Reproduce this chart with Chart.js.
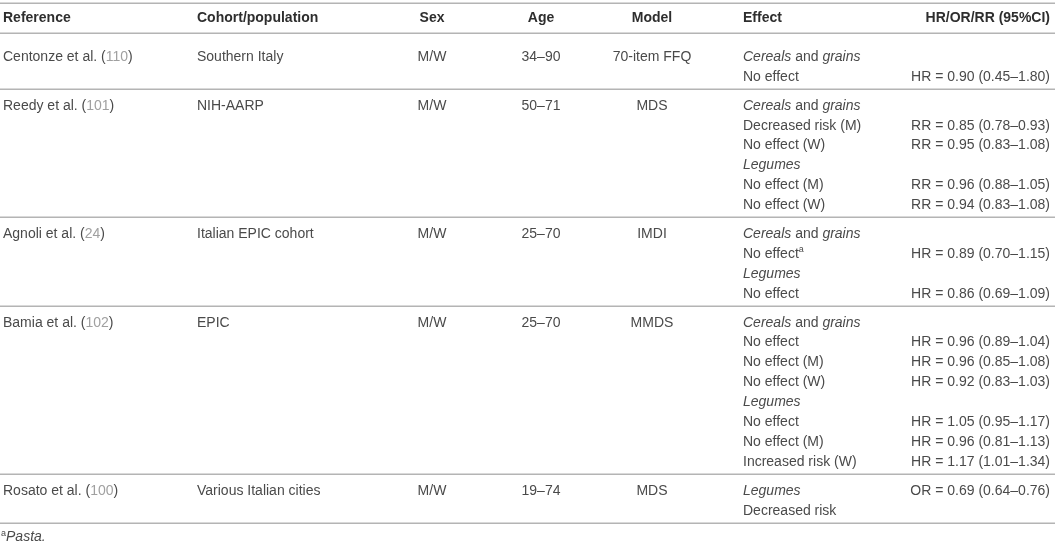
<!DOCTYPE html>
<html><head><meta charset="utf-8">
<script src="https://cdn.jsdelivr.net/npm/chart.js@4/dist/chart.umd.min.js"></script>
<style>html,body{margin:0;padding:0;background:#fff}#wrap{width:1055px;height:545px;position:relative}</style>
</head><body><div id="wrap"><canvas id="c"></canvas></div>
<script>
// ---------- data ----------
const headers = ["Reference","Cohort/population","Sex","Age","Model","Effect","HR/OR/RR (95%CI)"];
const refAuthors = ["Centonze et al.","Reedy et al.","Agnoli et al.","Bamia et al.","Rosato et al."];
const refNumbers = ["110","101","24","102","100"];
const cohorts = ["Southern Italy","NIH-AARP","Italian EPIC cohort","EPIC","Various Italian cities"];
const sexes = ["M/W","M/W","M/W","M/W","M/W"];
const ages = ["34–90","50–71","25–70","25–70","19–74"];
const models = ["70-item FFQ","MDS","IMDI","MMDS","MDS"];
const effects = [
  ["*Cereals* and *grains*","No effect"],
  ["*Cereals* and *grains*","Decreased risk (M)","No effect (W)","*Legumes*","No effect (M)","No effect (W)"],
  ["*Cereals* and *grains*","No effect^a","*Legumes*","No effect"],
  ["*Cereals* and *grains*","No effect","No effect (M)","No effect (W)","*Legumes*","No effect","No effect (M)","Increased risk (W)"],
  ["*Legumes*","Decreased risk"]
];
const measureTypes = [
  [null,"HR"],
  [null,"RR","RR",null,"RR","RR"],
  [null,"HR",null,"HR"],
  [null,"HR","HR","HR",null,"HR","HR","HR"],
  ["OR",null]
];
const estimates = [
  [null,0.90],
  [null,0.85,0.95,null,0.96,0.94],
  [null,0.89,null,0.86],
  [null,0.96,0.96,0.92,null,1.05,0.96,1.17],
  [0.69,null]
];
const lowerCI = [
  [null,0.45],
  [null,0.78,0.83,null,0.88,0.83],
  [null,0.70,null,0.69],
  [null,0.89,0.85,0.83,null,0.95,0.81,1.01],
  [0.64,null]
];
const upperCI = [
  [null,1.80],
  [null,0.93,1.08,null,1.05,1.08],
  [null,1.15,null,1.09],
  [null,1.04,1.08,1.03,null,1.17,1.13,1.34],
  [0.76,null]
];
const footnote = "^a*Pasta.*";

// ---------- layout (rows measured in row units) ----------
const L = {
  yMin: -2.839, yMax: 24.548,
  topLine: -2.71, headerRow: -1.93, headerLine: -1.18,
  gap: 0.45, lineAfter: 0.63, footRow: 24.15,
  colX: [3, 197, 432, 541, 652, 743, 1050],
  colAlign: ["left","left","center","center","center","left","right"],
  font: '"Liberation Sans",Arial,sans-serif',
  size: 14, text: "#4a4a4a", head: "#2e2e2e", grey: "#a0a0a0", rule: "#b4b4b4"
};

// row positions
const studyRowY = [], groupLines = [];
let pos = 0;
effects.forEach((rows, i) => {
  studyRowY.push(rows.map((_, k) => pos + k));
  groupLines.push(pos + rows.length - 1 + L.lineAfter);
  pos += rows.length + L.gap;
});
const ruleRows = [L.topLine, L.headerLine, ...groupLines];

function fmt(v){ return v.toFixed(2); }

// build datasets: one per column
const colCells = headers.map(() => []);
headers.forEach((h, j) => colCells[j].push({x: L.colX[j], y: L.headerRow, text: h, bold: true}));
refAuthors.forEach((a, i) => {
  const y = studyRowY[i][0];
  colCells[0].push({x: L.colX[0], y, text: a + " (", ref: refNumbers[i]});
  colCells[1].push({x: L.colX[1], y, text: cohorts[i]});
  colCells[2].push({x: L.colX[2], y, text: sexes[i]});
  colCells[3].push({x: L.colX[3], y, text: ages[i]});
  colCells[4].push({x: L.colX[4], y, text: models[i]});
  effects[i].forEach((e, k) => {
    const yy = studyRowY[i][k];
    colCells[5].push({x: L.colX[5], y: yy, text: e});
    if (estimates[i][k] != null) {
      colCells[6].push({x: L.colX[6], y: yy,
        text: measureTypes[i][k] + " = " + fmt(estimates[i][k]) + " (" + fmt(lowerCI[i][k]) + "–" + fmt(upperCI[i][k]) + ")"});
    }
  });
});
const footCells = [{x: 1, y: L.footRow, text: footnote}];

const datasets = colCells.map((cells, j) => ({
  label: headers[j], data: cells, align: L.colAlign[j],
  pointRadius: 0, showLine: false, clip: false
}));
datasets.push({label: "footnote", data: footCells, align: "left", pointRadius: 0, showLine: false, clip: false});

// rich text: *italic*, ^superscript
function parse(text){
  const segs = []; let italic = false, buf = "", i = 0;
  while (i < text.length) {
    const c = text[i];
    if (c === "*") { if (buf) segs.push({t: buf, it: italic}); buf = ""; italic = !italic; i++; }
    else if (c === "^") { if (buf) segs.push({t: buf, it: italic}); buf = ""; segs.push({t: text[i+1], it: false, sup: true}); i += 2; }
    else { buf += c; i++; }
  }
  if (buf) segs.push({t: buf, it: italic});
  return segs;
}
function fontFor(seg, bold){
  const w = bold ? "bold" : "normal";
  const st = seg.it ? "italic " : "";
  const sz = seg.sup ? Math.round(L.size * 0.62) : L.size;
  return st + w + " " + sz + "px " + L.font;
}

const tablePlugin = {
  id: "tablePlugin",
  beforeDatasetsDraw(chart){
    const ctx = chart.ctx, ys = chart.scales.y, area = chart.chartArea;
    ctx.save();
    ctx.strokeStyle = L.rule; ctx.lineWidth = 1.5;
    ruleRows.forEach(r => {
      const py = Math.round(ys.getPixelForValue(r)) + 0.25;
      ctx.beginPath(); ctx.moveTo(area.left, py); ctx.lineTo(area.right, py); ctx.stroke();
    });
    ctx.restore();
  },
  afterDatasetsDraw(chart){
    const ctx = chart.ctx;
    ctx.save();
    ctx.textBaseline = "middle";
    chart.data.datasets.forEach((ds, di) => {
      const meta = chart.getDatasetMeta(di);
      meta.data.forEach((pt, k) => {
        const cell = ds.data[k];
        let segs = parse(cell.text);
        if (cell.ref) { segs.push({t: cell.ref, it: false, grey: true}); segs.push({t: ")", it: false}); }
        let total = 0;
        segs.forEach(s => { ctx.font = fontFor(s, cell.bold); s.w = ctx.measureText(s.t).width; total += s.w; });
        let x = pt.x;
        if (ds.align === "center") x -= total / 2;
        else if (ds.align === "right") x -= total;
        segs.forEach(s => {
          ctx.font = fontFor(s, cell.bold);
          ctx.fillStyle = s.grey ? L.grey : (cell.bold ? L.head : L.text);
          ctx.textAlign = "left";
          ctx.fillText(s.t, x, s.sup ? pt.y - 4 : pt.y + 0.5);
          x += s.w;
        });
      });
    });
    ctx.restore();
  }
};

new Chart(document.getElementById("c"), {
  type: "scatter",
  data: { datasets },
  options: {
    responsive: true, maintainAspectRatio: false, animation: false,
    layout: { padding: 0 },
    events: [],
    plugins: { legend: { display: false }, tooltip: { enabled: false } },
    scales: {
      x: { type: "linear", display: false, min: 0, max: 1055 },
      y: { type: "linear", display: false, min: L.yMin, max: L.yMax, reverse: true }
    }
  },
  plugins: [tablePlugin]
});
</script>
</body></html>
